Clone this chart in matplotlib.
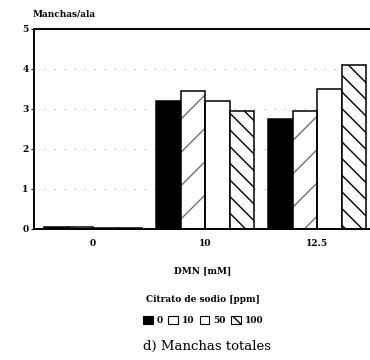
import numpy as np
import matplotlib.pyplot as plt
from matplotlib.patches import Patch

plt.rcParams['font.family'] = ['DejaVu Serif', 'Liberation Serif']
plt.rcParams['hatch.linewidth'] = 1.0

# data
dmn_labels = ['0', '10', '12.5']
citrate_levels = ['0', '10', '50', '100']
spots_c0 = [0.05, 3.2, 2.75]
spots_c10 = [0.05, 3.45, 2.95]
spots_c50 = [0.03, 3.2, 3.5]
spots_c100 = [0.03, 2.95, 4.1]

series = [spots_c0, spots_c10, spots_c50, spots_c100]
faces = ['black', 'white', 'white', 'white']
hatches = [None, '/', None, '\\\\']
hatch_cols = [None, '0.45', None, 'black']

W, H = 370, 360
small = {'size': 6.5, 'weight': 'bold'}

fig = plt.figure(figsize=(W / 100, H / 100), dpi=100)
# axes in pixel coords: left 34, right beyond edge, y0 at 229, y5 at 29
ax = fig.add_axes([34 / W, 1 - 229 / H, (372 - 34) / W, 200 / H])

x = np.arange(len(dmn_labels))
bw = 0.2187
for k, vals in enumerate(series):
    pos = x + (k - 1.5) * bw
    if hatches[k]:
        ax.bar(pos, vals, bw, color='white', edgecolor=hatch_cols[k],
               hatch=hatches[k], linewidth=0, zorder=2)
        ax.bar(pos, vals, bw, color='none', edgecolor='black',
               linewidth=1.1, zorder=3)
    else:
        ax.bar(pos, vals, bw, color=faces[k], edgecolor='black',
               linewidth=1.1, zorder=2)

ax.set_xlim(-0.527, 2.49)
ax.set_ylim(0, 5)
ax.set_yticks(range(6))
ax.set_yticklabels([str(v) for v in range(6)], fontdict=small)
ax.set_xticks(x)
ax.set_xticklabels(dmn_labels, fontdict=small)
ax.tick_params(axis='y', length=2, width=0.8, pad=2)
ax.tick_params(axis='x', length=0, pad=7)
for y in range(1, 5):
    ax.axhline(y, color='0.65', linestyle=(0, (1, 8)), linewidth=0.8, zorder=1)
for s in ['left', 'bottom', 'top']:
    ax.spines[s].set_linewidth(1.4)
ax.spines['right'].set_visible(False)

ax.set_xlabel('DMN [mM]', fontdict=small, labelpad=13)
fig.text(33 / W, 1 - 14 / H, 'Manchas/ala', fontdict=small,
         va='center', ha='left')

handles = []
for k in range(4):
    handles.append(Patch(facecolor=faces[k], edgecolor='black',
                         hatch=hatches[k] if k == 3 else None, linewidth=0.8))
leg = fig.legend(handles, citrate_levels, loc='center',
                 bbox_to_anchor=(203 / W, 1 - 310 / H), ncol=4, frameon=False,
                 prop=small, handlelength=1.1, handleheight=1.1,
                 handletextpad=0.4, columnspacing=0.6, labelspacing=1.3,
                 title='Citrato de sodio [ppm]', title_fontproperties=small)

fig.text(207 / W, 1 - 346 / H, 'd) Manchas totales', fontsize=9.5,
         ha='center', va='center')

fig.savefig('out.png', dpi=100)
